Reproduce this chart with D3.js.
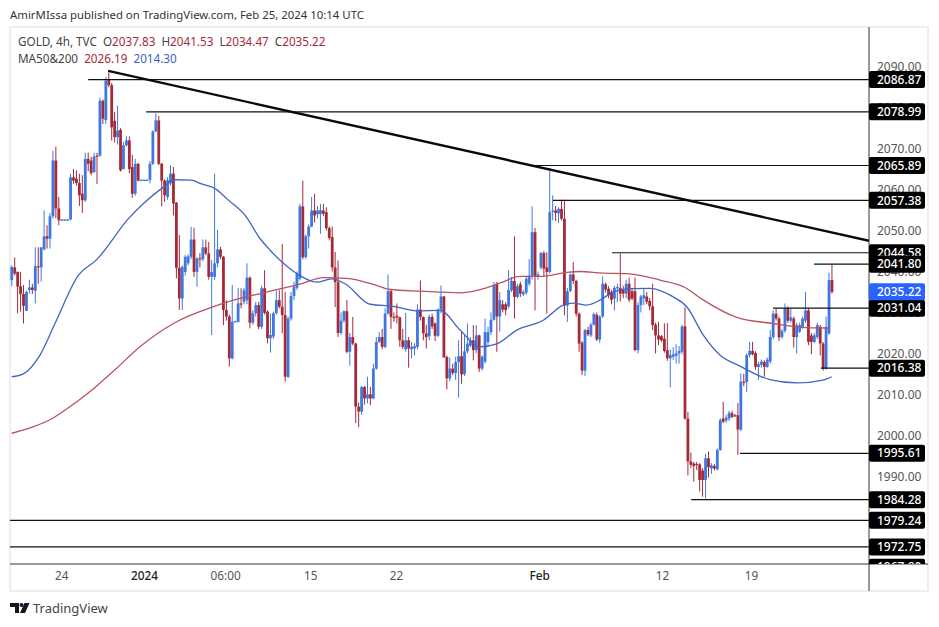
<!DOCTYPE html>
<html>
<head>
<meta charset="utf-8">
<script src="https://cdn.jsdelivr.net/npm/d3@7"></script>
<style>
  html, body { margin: 0; padding: 0; background: #fff; }
  svg { display: block; }
  text { font-family: "Noto Sans", "Open Sans", sans-serif; }
</style>
</head>
<body>
<div id="chart"></div>
<script>
const candleOpen = [
  2037.9,2041,2039.9,2036.4,2034.5,2030.4,2035.5,2036.1,2035.3,2041.3,
  2041,2045.4,2048.6,2048,2053.5,2067.1,2055.4,2052.6,2052.6,2052.6,
  2052.7,2063,2062.7,2061.6,2059,2057.4,2067.5,2067.1,2064.3,2068.3,
  2068.3,2081.7,2077,2086.8,2085.5,2076.8,2072.8,2074.6,2065,2070.8,
  2072,2065.5,2059,2066.3,2062.3,2062.3,2062.3,2062.4,2066.3,2074.2,
  2076.9,2066.3,2062.2,2058.2,2061.5,2063.9,2056.8,2040.9,2033.4,2039.9,
  2042,2043.6,2047.8,2039.9,2043.2,2043,2045.9,2044.4,2038.7,2038.7,
  2042,2045.4,2043.6,2030.6,2029,2018.8,2027.7,2027.7,2032.2,2032.6,
  2033,2038.5,2027.5,2029.8,2031.8,2026.5,2035.9,2030.2,2023.7,2024.1,
  2029.8,2033,2031.4,2029.4,2014.3,2028.5,2034,2036,2038.2,2055.9,
  2043.5,2048.6,2051,2054.9,2054,2054,2054.9,2054.5,2050.6,2048.4,
  2041,2037.4,2025,2028,2030.3,2020.4,2024,2022.4,2007,2005.8,
  2011.8,2009,2010,2009,2016.3,2022.8,2024,2021.6,2029.7,2035.2,
  2028.9,2029.2,2028.8,2023.2,2021,2023.2,2021,2021.2,2021.6,2030.7,
  2028.9,2024.9,2024.2,2028.9,2027.3,2024.3,2030.7,2033.9,2019.1,2013.9,
  2016.3,2015.2,2017.9,2019.3,2014.9,2020.5,2021.9,2023.2,2020.8,2024.4,
  2016.3,2018,2022.8,2025.2,2028.2,2037,2029,2032,2032,2031.5,
  2035.4,2037.7,2033.8,2036.9,2034.4,2034.8,2037,2039,2049.6,2038.8,
  2041,2044.5,2041,2039.9,2054.7,2054.9,2054.2,2055.3,2052.9,2031.7,
  2035.2,2039.3,2037.7,2029.7,2022.6,2015.8,2025.7,2024.4,2027,2029.4,
  2023.4,2029,2036.9,2035.8,2035,2033.4,2036,2036,2035.6,2034.6,
  2037,2035.2,2035.2,2020.8,2031.8,2033.4,2033.9,2032.8,2031.5,2027,
  2024.4,2024.2,2023.6,2020.8,2018.8,2019.2,2019.4,2020,2020.4,2026.6,
  2004.1,1993.6,1993.1,1993,1992.9,1991.4,1989.1,1994.4,1991.9,1992.5,
  1991.7,1996.4,2004.1,2003.6,2004.1,2005.4,2004.9,2004.9,2001.4,2013.1,
  2013,2019.6,2020.6,2020.1,2016.7,2017.2,2017.9,2016.7,2018,2024,
  2029.7,2028.5,2024,2025.5,2031,2028,2028.5,2024,2025.3,2026.5,
  2028,2030.5,2024.4,2022.8,2024,2026.5,2022.4,2016.3,2024.8,2037.9
]
const candleHigh = [
  2041.5,2043.4,2040,2039.9,2036.7,2035.3,2038,2037,2045.9,2045.9,
  2045.9,2054.9,2051.3,2054.3,2069.5,2070.5,2058.2,2052.8,2052.8,2052.8,
  2063.9,2065,2064.7,2063.9,2063.5,2069,2069,2068,2069,2069,
  2082.5,2082,2087.5,2088.6,2086,2079,2080.5,2075,2071.6,2073,
  2073,2068.5,2067.5,2066.5,2062.5,2062.5,2062.5,2067,2074.5,2078.6,
  2078,2066.5,2062.5,2063,2065.9,2065.5,2057,2048.9,2041.5,2044,
  2044.2,2050.9,2050.7,2043.5,2044.5,2047.8,2047.8,2047.2,2042.8,2063.9,
  2050.2,2046,2043.8,2033,2029.5,2036.7,2028,2036,2035.9,2036,
  2042,2038.8,2030.5,2032.6,2032.6,2036.5,2040.3,2030.5,2029.8,2030.2,
  2035.4,2035.4,2046.7,2035,2029,2035,2037.5,2040,2056.5,2062.2,
  2049,2051.5,2058.2,2059,2056,2056.5,2056.5,2055.7,2051,2051,
  2044.8,2042.7,2030,2030.5,2033,2025,2028.9,2022.6,2008,2012,
  2012,2014.3,2011.8,2017.5,2024,2025.2,2026,2031,2039.3,2035.6,
  2030,2032.2,2029,2026,2029.9,2024,2022.8,2022.5,2032,2037.8,
  2029,2027,2029.5,2029.7,2027.6,2031,2036.6,2034,2019.5,2019,
  2017.5,2019.2,2023.2,2025.2,2024.4,2027.3,2024,2026.9,2026.9,2024.6,
  2019.5,2028.5,2026.5,2030,2037.4,2037.4,2035,2033,2032.5,2040.3,
  2038.7,2048.6,2037,2037.5,2035.5,2038.7,2043,2055.9,2050.6,2040,
  2044.8,2045,2044.7,2065.3,2058.6,2056,2055.7,2057.5,2057.5,2036,
  2039.5,2042.3,2038,2030,2023,2026,2026.5,2027.5,2030,2030,
  2029.3,2038.8,2037.3,2036.4,2035.5,2036.5,2037,2044.4,2036.5,2038,
  2038.5,2036,2038.5,2032.5,2034.3,2036,2035,2033.5,2037,2027.5,
  2027.7,2024.5,2027.3,2027.4,2021,2021.5,2022.2,2021.8,2027,2031.3,
  2005.7,1995.8,1993.5,1993.5,1993.2,1992,1995.5,1996,1993.2,1993,
  1996.8,2004.2,2008.2,2005,2006,2006,2005.2,2007.9,2015.1,2015,
  2020,2022.8,2022.8,2020.5,2018,2018.5,2018.3,2019,2025.7,2030.5,
  2030.9,2029,2026,2032.2,2031.5,2031,2029,2027.5,2027.5,2029,
  2035,2031,2025,2025,2027.5,2027,2022.8,2029,2039.7,2041.7
]
const candleLow = [
  2036.4,2039,2029.8,2030.2,2027.3,2030.4,2034.6,2034.5,2032.2,2037,
  2037.5,2045.2,2045.6,2045.6,2053,2053,2051.3,2052.4,2052.4,2052.4,
  2052.5,2061.4,2061,2056,2054.3,2057,2064.5,2063.5,2064,2061.4,
  2068,2076,2076,2085,2072,2071.5,2071,2064.4,2065,2070.5,
  2064,2058,2058.5,2062,2062.2,2062.2,2062.2,2061.5,2066,2074,
  2066,2055.9,2057,2057.5,2061,2053.7,2038.3,2030.6,2030.6,2039,
  2041.5,2043,2038.7,2036.3,2041,2042.5,2044,2038,2024.5,2038,
  2041,2043,2026.9,2028,2016.8,2018.5,2027.5,2027.5,2031,2032,
  2032,2026.1,2027,2029,2025.9,2026,2029.5,2022.5,2020.2,2023.5,
  2029.5,2031,2024.9,2013.1,2014,2028,2033,2035.5,2037.8,2043,
  2043,2045.6,2050.8,2052,2053,2049.2,2053.5,2050,2047.6,2040,
  2031.3,2024,2024.5,2027.5,2020,2017,2022,2003,2002,2005,
  2007.5,2007.8,2007.4,2008.8,2016,2022.5,2021,2021.2,2029.5,2026,
  2027.7,2027.3,2021.6,2021,2020.4,2016.5,2018.8,2019.5,2021,2028,
  2023.2,2021.2,2023.2,2026,2023,2024,2029.8,2019,2011.2,2013.2,
  2014.7,2013.5,2009.2,2012.6,2014.5,2020,2021.5,2018.3,2020,2015.5,
  2015.8,2017.5,2022,2024.5,2028,2020.4,2025.3,2030,2029.3,2031,
  2035,2028.5,2033.5,2033.8,2034,2034.3,2036.5,2038,2030.5,2038,
  2040.5,2038.7,2029.7,2039.5,2052.5,2052.3,2051.8,2052.5,2029.3,2027.7,
  2035,2037,2029,2020.4,2014.7,2014.5,2024.2,2024,2026.8,2023,
  2022.6,2028.7,2034.9,2033.5,2032,2030.5,2032.5,2032.7,2033.5,2033.5,
  2032.5,2033,2020.5,2020,2030,2031.8,2032,2030.5,2025.7,2020,
  2022,2022.8,2020.2,2018.2,2011.7,2018.4,2017.5,2017.5,2019.8,2003.8,
  1990.2,1992,1988.7,1991.5,1986.3,1985,1984.6,1989.7,1990.6,1991.4,
  1991.4,1996.2,2003,2003,2003.5,2004.2,2004.5,1995.2,2001,2012,
  2010.6,2019,2019.5,2016,2013.5,2016.5,2014.3,2016.5,2017.5,2023.5,
  2028,2023,2023.5,2025,2027.5,2027.5,2021.4,2020,2025,2026,
  2027.5,2022,2019.8,2022.5,2023.5,2019.5,2015.8,2016,2024.6,2034.6
]
const candleClose = [
  2041.1,2039.5,2036.3,2034.5,2031.6,2035,2036.1,2035.5,2041.3,2041,
  2045.9,2048.6,2048,2053.5,2067.1,2055.4,2052.5,2052.7,2052.7,2052.7,
  2063,2062.2,2061.6,2058.6,2057.4,2067.5,2066.3,2064,2068.1,2068,
  2081.7,2077.3,2086.6,2085.5,2075.2,2072.8,2074.4,2064.7,2070.8,2072,
  2065,2059,2066.3,2062.2,2062.4,2062.4,2062.4,2066.3,2074.2,2076.9,
  2066.3,2062.2,2058.6,2062.3,2063.9,2056.6,2040.9,2033.4,2041.1,2043.6,
  2043.7,2047.8,2039.9,2043.2,2043,2045.9,2044.4,2038.7,2039.9,2042,
  2045.4,2043.6,2030.6,2029,2018.8,2027.7,2027.9,2032.2,2032,2035.4,
  2038.5,2027.5,2029.8,2031.8,2026.5,2035.9,2029.9,2023.7,2024.5,2029.8,
  2033,2031.4,2029.4,2014.3,2028.5,2034,2036.3,2039.5,2055.9,2043.5,
  2048.6,2051,2054.9,2053.7,2054.9,2055,2054.1,2050.6,2048.2,2041,
  2037.4,2025,2028,2030.3,2020.4,2024,2022.4,2007,2005.8,2011.8,
  2009,2010,2009,2016.3,2022.8,2024,2021.6,2029.7,2035.2,2028.9,
  2028.8,2028.8,2023.2,2021.6,2023.2,2021.2,2021.6,2021.8,2030.7,2028.9,
  2024.9,2024,2028.9,2026.6,2024.3,2030.7,2033.9,2019,2013.9,2016.3,
  2015.2,2017.9,2019.3,2014.9,2020.5,2022.4,2023.2,2020.8,2024.4,2016.3,
  2019.2,2025.2,2025.2,2028.2,2036.6,2029,2033,2030.7,2030.6,2035.5,
  2037.7,2033.8,2036.4,2034.6,2035,2038.2,2039,2049.6,2038.8,2039.3,
  2044.5,2040.7,2039.9,2054.5,2054.9,2054.3,2055.3,2052.9,2031.7,2035.2,
  2039.3,2037.7,2029.7,2022.4,2015.8,2025.7,2024.7,2027,2029.6,2023.4,
  2029,2037,2035.6,2034.2,2033.1,2036,2036.2,2034.6,2034.6,2037,
  2033.1,2033.4,2020.8,2031.8,2033.9,2034.2,2032.6,2031.5,2026.9,2024.4,
  2023.4,2023.2,2020.6,2018.8,2019.6,2019.8,2020,2020.6,2026.6,2004.1,
  1993.6,1992.8,1992.5,1992.8,1989.1,1989.1,1994.4,1992.2,1992.7,1991.9,
  1996.4,2003.7,2003.3,2004.3,2005.5,2004.5,2004.7,2001.4,2013.1,2012.8,
  2019.6,2020.6,2019.8,2016.7,2017.4,2018,2016.7,2018.5,2024,2029.7,
  2028.5,2023.9,2025.5,2031,2028,2028.8,2024,2026.9,2026.9,2028.5,
  2030.5,2022.8,2022.8,2024.4,2026.9,2022.4,2016.3,2026.5,2037.9,2035
]

// moving averages at a handful of candle indexes
const ma200Index = [0,7.4,13,22.1,28.3,35.1,43.6,55,68.6,75.4,85.6,98,106,114,124.1,128.7,138.9,152.5,159.3,166.1,172.9,179.7,188.8,193.3,201.2,209.2,220.5,229,235.3,246.6,259,270.4,278.3]
const ma200Value = [2000.5,2002.1,2003.8,2008.2,2011.7,2016,2021.6,2027.3,2031.4,2033,2034.8,2036.9,2038.5,2038.3,2036.6,2035.6,2035.2,2034.8,2035.6,2037.2,2038.8,2038.8,2039.8,2040,2039.6,2039.5,2037.9,2036.1,2033,2028.8,2027.3,2026.3,2026.2]
const ma50Index = [0,3.9,9.6,14.7,22.7,28.9,39.7,44.8,51.6,55.5,61.2,64,69.7,73.1,79.4,84.5,87.9,92.4,96.9,103.7,108.8,113.4,121.9,129.8,137.7,145.7,152.5,159.3,165,171.8,180.8,187.6,191,195.6,200.1,204.6,210.3,217.1,225,229.6,235.3,240.9,247.7,257.9,267,276,278.9]
const ma50Value = [2014.3,2015,2019.6,2027.3,2039.1,2042.9,2052.9,2056.6,2060.6,2062.4,2062.3,2061.5,2060,2057.8,2053.7,2048,2045.2,2042,2039.5,2037.4,2038.2,2037,2032,2031.5,2030.4,2030.5,2025.7,2021.6,2022.3,2025.7,2028.1,2031.8,2032.3,2031.8,2033,2035,2035.8,2035.9,2033.8,2031.4,2024.4,2019.6,2016.9,2013.6,2012.8,2013.5,2014.3]

const levelPrice = [2086.87,2078.99,2065.89,2057.38,2044.58,2041.80,2031.04,2016.38,1995.61,1984.28,1979.24,1972.75,1967.80]
const levelStart = [26,45.7,177.3,184.1,204.2,272.9,258.9,275.2,247.7,231.1,-0.6,-0.6,-0.6]
const trendIndex = [32.8,291.6]
const trendPrice = [2089,2047.5]
const lastPrice = 2035.22

const priceTicks = [1990,2000,2010,2020,2030,2040,2050,2060,2070,2080,2090]
const timeTickIndex = [16.8,45,72.6,101.5,130.7,179.4,221.2,251.5]
const timeTickLabel = ['24','2024','06:00','15','22','Feb','12','19']

const upColor = '#3f77e0'
const downColor = '#a42a38'
const plot = {left: 10, right: 869, top: 27, bottom: 564, frameBottom: 591, frameRight: 928}

const svg = d3.select('#chart').append('svg')
  .attr('width', 939)
  .attr('height', 627)

const x = d3.scaleLinear().domain([-0.6, 291.6]).range([plot.left, plot.right])
const y = d3.scaleLinear().domain([2000, 2090]).range([435.3, 66.75])

const defs = svg.append('defs')
defs.append('clipPath').attr('id', 'plotClip').append('rect')
  .attr('x', plot.left).attr('y', plot.top)
  .attr('width', plot.right - plot.left).attr('height', plot.bottom - plot.top)
defs.append('clipPath').attr('id', 'axisClip').append('rect')
  .attr('x', plot.right).attr('y', plot.top)
  .attr('width', plot.frameRight - plot.right).attr('height', plot.bottom - plot.top)

svg.append('text')
  .attr('x', 10).attr('y', 18.5)
  .attr('font-size', 11.4).attr('fill', '#333')
  .text('AmirMIssa published on TradingView.com, Feb 25, 2024 10:14 UTC')

// frame
svg.append('rect')
  .attr('x', 10).attr('y', 27)
  .attr('width', plot.frameRight - 10).attr('height', plot.frameBottom - 27)
  .attr('fill', '#fff').attr('stroke', '#eeeeee').attr('stroke-width', 2)

const chart = svg.append('g').attr('clip-path', 'url(#plotClip)')

const candles = d3.range(candleOpen.length)
const candle = chart.selectAll('.candle')
  .data(candles)
  .enter()
    .append('g')
      .attr('class', 'candle')
      .attr('fill', i => candleClose[i] >= candleOpen[i] ? upColor : downColor)
      .attr('stroke', i => candleClose[i] >= candleOpen[i] ? upColor : downColor)
candle.append('line')
  .attr('x1', i => x(i)).attr('x2', i => x(i))
  .attr('y1', i => y(candleHigh[i])).attr('y2', i => y(candleLow[i]))
  .attr('stroke-width', 1)
candle.append('rect')
  .attr('x', i => x(i) - 1.4)
  .attr('width', 2.8)
  .attr('y', i => y(Math.max(candleOpen[i], candleClose[i])))
  .attr('height', i => Math.max(1.2, Math.abs(y(candleOpen[i]) - y(candleClose[i]))))
  .attr('stroke', 'none')

const maLine = d3.line().curve(d3.curveMonotoneX)
chart.append('path')
  .attr('d', maLine(ma200Index.map((d, i) => [x(d), y(ma200Value[i])])))
  .attr('fill', 'none').attr('stroke', '#b8545f').attr('stroke-width', 1.3)
chart.append('path')
  .attr('d', maLine(ma50Index.map((d, i) => [x(d), y(ma50Value[i])])))
  .attr('fill', 'none').attr('stroke', '#4265c4').attr('stroke-width', 1.3)

chart.selectAll('.level')
  .data(levelPrice)
  .enter()
    .append('line')
      .attr('class', 'level')
      .attr('x1', (d, i) => x(levelStart[i]))
      .attr('x2', plot.right)
      .attr('y1', d => y(d)).attr('y2', d => y(d))
      .attr('stroke', '#111').attr('stroke-width', 1.2)

chart.append('line')
  .attr('x1', x(trendIndex[0])).attr('y1', y(trendPrice[0]))
  .attr('x2', x(trendIndex[1])).attr('y2', y(trendPrice[1]))
  .attr('stroke', '#0a0a0a').attr('stroke-width', 2.4)

// axes
const yAxis = svg.append('g')
  .attr('class', 'axis axis--y')
  .attr('transform', `translate(${plot.right}, 0)`)
  .call(d3.axisRight(y).tickValues(priceTicks).tickFormat(d3.format('.2f')).tickSize(0).tickPadding(8))
yAxis.select('.domain').remove()
yAxis.selectAll('text').attr('font-size', 12).attr('fill', '#555').attr('font-family', '"Noto Sans", sans-serif')

const xAxis = svg.append('g')
  .attr('class', 'axis axis--x')
  .attr('transform', `translate(0, ${plot.bottom})`)
  .call(d3.axisBottom(x)
    .tickValues(timeTickIndex)
    .tickFormat((d, i) => timeTickLabel[i])
    .tickSize(0).tickPadding(8))
xAxis.select('.domain').remove()
xAxis.selectAll('text')
  .attr('font-size', 11.8)
  .attr('fill', (d, i) => timeTickLabel[i] === '2024' || timeTickLabel[i] === 'Feb' ? '#222' : '#555')
  .attr('font-weight', (d, i) => timeTickLabel[i] === '2024' || timeTickLabel[i] === 'Feb' ? 500 : 400)
  .attr('font-family', '"Noto Sans", sans-serif')

svg.append('line')
  .attr('x1', plot.left).attr('x2', plot.frameRight)
  .attr('y1', plot.bottom).attr('y2', plot.bottom)
  .attr('stroke', '#333').attr('stroke-width', 1)
svg.append('line')
  .attr('x1', plot.right).attr('x2', plot.right)
  .attr('y1', plot.top).attr('y2', plot.frameBottom)
  .attr('stroke', '#333').attr('stroke-width', 1)

// price pills over the axis
const pills = svg.append('g').attr('clip-path', 'url(#axisClip)')
const pill = pills.selectAll('.pill')
  .data(levelPrice.concat([lastPrice]))
  .enter()
    .append('g')
      .attr('class', 'pill')
      .attr('transform', d => `translate(${plot.right}, ${d === lastPrice ? y(d) + 0.6 : y(d)})`)
pill.append('rect')
  .attr('x', 0).attr('y', -8.5)
  .attr('width', 56).attr('height', 17).attr('rx', 2)
  .attr('fill', d => d === lastPrice ? '#2962ff' : '#000')
pill.append('text')
  .attr('x', 8).attr('dy', '0.35em')
  .attr('font-size', 12).attr('font-weight', 500).attr('fill', '#fff')
  .text(d => d3.format('.2f')(d))

// legend
const legendRows = [
  {y: 45.5, parts: [['GOLD, 4h, TVC  ', '#444'], ['O', '#444'], ['2037.83  ', downColor], ['H', '#444'], ['2041.53  ', downColor], ['L', '#444'], ['2034.47  ', downColor], ['C', '#444'], ['2035.22', downColor]]},
  {y: 62.5, parts: [['MA50&200  ', '#444'], ['2026.19  ', downColor], ['2014.30', '#3a5fc0']]}
]
legendRows.forEach(row => {
  const t = svg.append('text').attr('x', 18).attr('y', row.y).attr('font-size', 11.7).attr('xml:space', 'preserve')
  row.parts.forEach(p => t.append('tspan').attr('fill', p[1]).text(p[0]))
})

// footer logo
const logo = svg.append('g').attr('transform', 'translate(10, 603)').attr('fill', '#131722')
logo.append('path').attr('d', 'M0 0H9V10H5V4H0Z')
logo.append('circle').attr('cx', 11.5).attr('cy', 2).attr('r', 2)
logo.append('path').attr('d', 'M14.5 0H19.5L15 10H10Z')
svg.append('text')
  .attr('x', 33).attr('y', 613)
  .attr('font-size', 13).attr('fill', '#444')
  .text('TradingView')
</script>
</body>
</html>
